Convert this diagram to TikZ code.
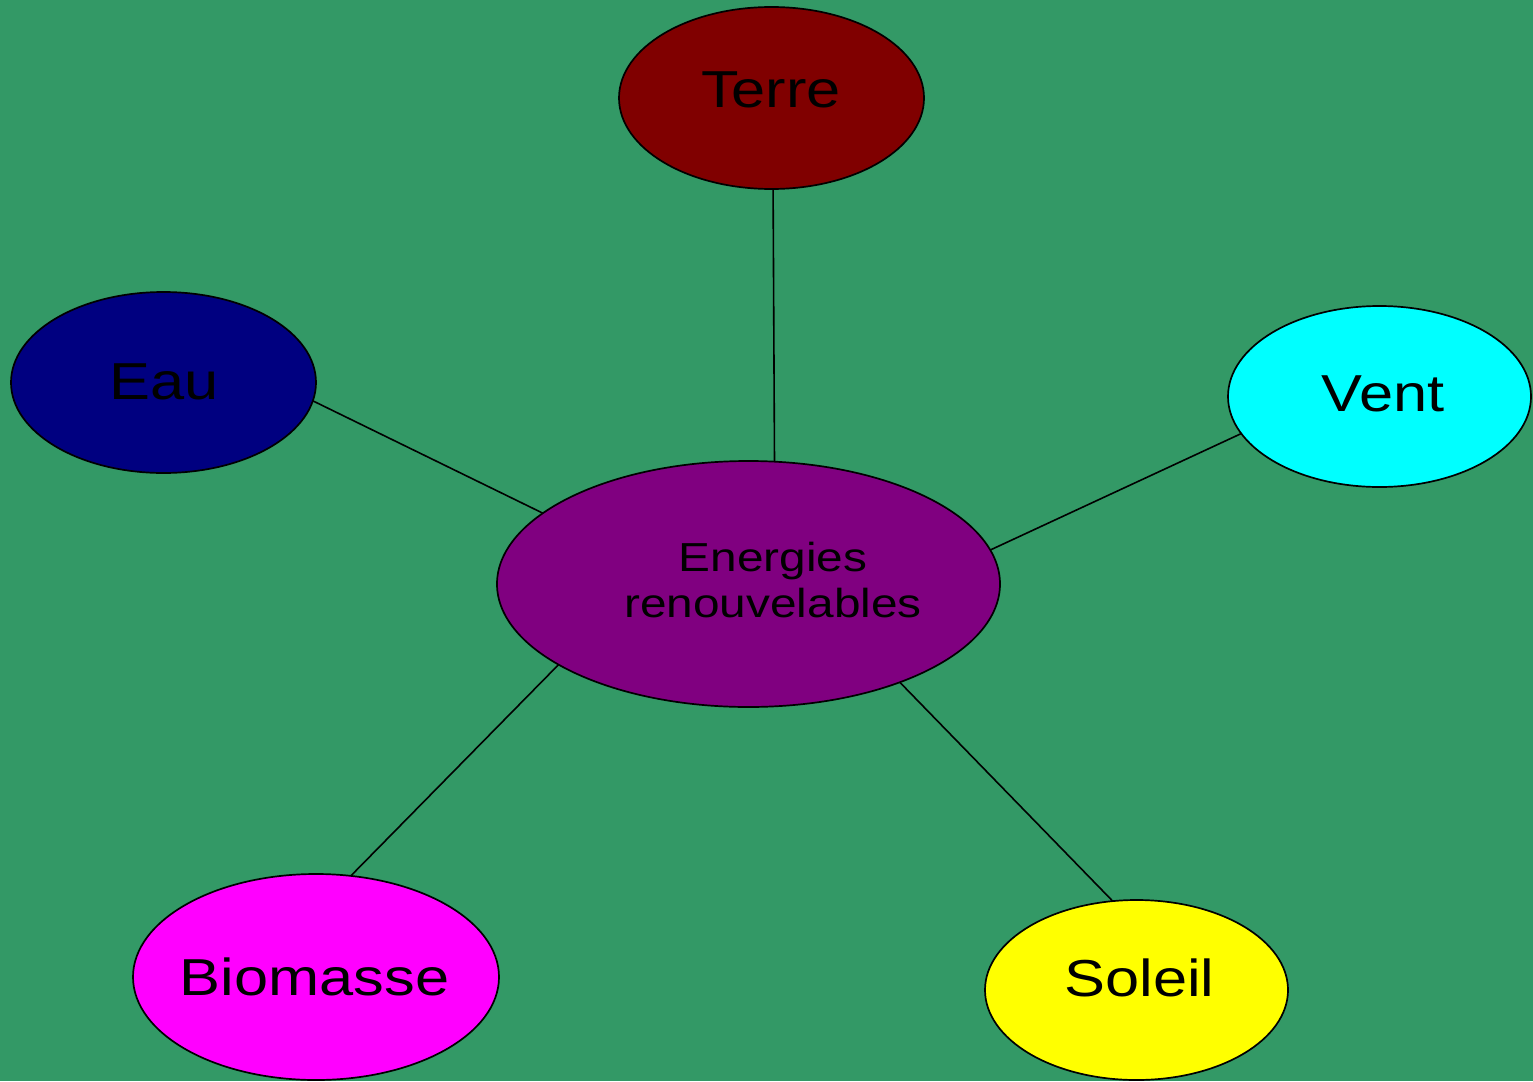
\documentclass[tikz,border=0pt]{standalone}
\usepackage{fontspec}
\setmainfont{Liberation Sans}[FakeStretch=1.18]
\usetikzlibrary{shapes.geometric}
\definecolor{bggreen}{RGB}{51,153,102}
\definecolor{cterre}{RGB}{128,0,0}
\definecolor{ceau}{RGB}{0,0,128}
\definecolor{cvent}{RGB}{0,255,255}
\definecolor{cctr}{RGB}{128,0,128}
\definecolor{cbio}{RGB}{255,0,255}
\definecolor{csol}{RGB}{255,255,0}
\tikzset{
  blob/.style={ellipse, draw=black, line width=1.7pt, inner sep=0pt, outer sep=0pt},
  lbl/.style={anchor=base, inner sep=0pt, font=\fontsize{52}{60}\selectfont, text=black},
  clbl/.style={inner sep=0pt, align=center, font=\fontsize{40.5}{46}\selectfont, text=black},
  edge/.style={draw=black, line width=1.6pt}
}
\begin{document}
\begin{tikzpicture}[x=1pt,y=-1pt]
\fill[bggreen] (0,0) rectangle (1533,1081);
\useasboundingbox (0,0) rectangle (1533,1081);
\node[blob, fill=cterre, minimum width=305pt, minimum height=182pt] (terre) at (771.5,98) {};
\node[blob, fill=ceau, minimum width=305pt, minimum height=181pt] (eau) at (163.5,382.5) {};
\node[blob, fill=cvent, minimum width=303pt, minimum height=181pt] (vent) at (1379.5,396.5) {};
\node[blob, fill=cctr, minimum width=503pt, minimum height=246pt] (ctr) at (748.5,584) {};
\node[blob, fill=cbio, minimum width=366pt, minimum height=206pt] (bio) at (316,977) {};
\node[blob, fill=csol, minimum width=303pt, minimum height=180pt] (sol) at (1136.5,990) {};

\node[lbl] (terreT) at (771,107) {Terre};
\node[lbl] (eauT) at (164,399) {Eau};
\node[lbl] (ventT) at (1383,411) {Vent};
\node[lbl] (bioT) at (314.5,995) {Biomasse};
\node[lbl] (solT) at (1139.5,996) {Soleil};
\node[clbl] (ctrT) at (773,580) {Energies\\renouvelables};

\draw[edge] (terre.-89.4) -- (ctr.78.7);
\draw[edge] (eau.-7.2) -- (ctr.161.1);
\draw[edge] (vent.-165.1) -- (ctr.8.5);
\draw[edge] (bio.71) -- (ctr.-157.5);
\draw[edge] (sol.105) -- (ctr.-33.3);
\end{tikzpicture}
\end{document}
